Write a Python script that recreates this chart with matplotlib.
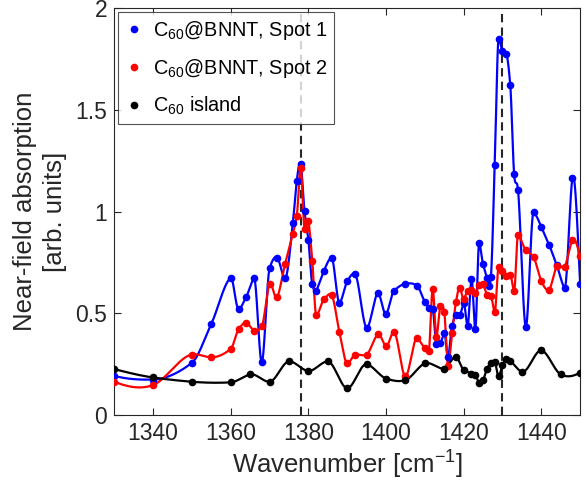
import matplotlib
matplotlib.use("Agg")
import matplotlib.pyplot as plt
from matplotlib.lines import Line2D
import numpy as np

plt.rcParams["font.family"] = ["Liberation Sans", "DejaVu Sans"]
plt.rcParams["mathtext.fontset"] = "custom"
plt.rcParams["mathtext.rm"] = "Liberation Sans"
plt.rcParams["mathtext.it"] = "Liberation Sans"

# spectra
spot1_x = [1330, 1340, 1350, 1355, 1360, 1362, 1364, 1366, 1368, 1370, 1372, 1374, 1376, 1377,
           1378, 1379, 1380, 1381, 1382, 1384, 1386, 1388, 1390, 1392, 1395, 1398, 1400, 1402,
           1405, 1408, 1410, 1411, 1412, 1413, 1414, 1415, 1416, 1417, 1418, 1419, 1420, 1421,
           1422, 1423, 1424, 1425, 1426, 1426.6, 1427, 1428, 1429, 1430, 1431, 1432, 1433, 1434,
           1436, 1438, 1440, 1442, 1444, 1446, 1448, 1450]
spot1_y = [0.193, 0.175, 0.257, 0.449, 0.675, 0.521, 0.582, 0.672, 0.259, 0.721, 0.774, 0.672,
           0.943, 1.149, 1.235, 1.002, 0.861, 0.644, 0.611, 0.710, 0.772, 0.552, 0.657, 0.694,
           0.430, 0.598, 0.497, 0.610, 0.646, 0.636, 0.557, 0.528, 0.521, 0.348, 0.353, 0.402,
           0.287, 0.439, 0.492, 0.492, 0.549, 0.439, 0.669, 0.421, 0.848, 0.741, 0.674, 0.635,
           0.677, 1.230, 1.851, 1.790, 1.774, 1.623, 1.184, 1.107, 0.434, 0.997, 0.926, 0.838,
           0.736, 0.625, 1.164, 0.644]

spot2_x = [1330, 1340, 1350, 1355, 1360, 1362, 1364, 1366, 1368, 1370, 1372, 1374, 1376, 1377,
           1378, 1379, 1380, 1381, 1382, 1384, 1386, 1388, 1390, 1392, 1395, 1398, 1400, 1402,
           1405, 1408, 1410, 1411, 1412, 1413, 1414, 1415, 1416, 1417, 1418, 1419, 1420, 1421,
           1422, 1423, 1424, 1425, 1426, 1427, 1428, 1429, 1430, 1431, 1432, 1433, 1434, 1436,
           1438, 1440, 1442, 1444, 1446, 1448, 1450]
spot2_y = [0.164, 0.148, 0.298, 0.284, 0.325, 0.421, 0.454, 0.415, 0.438, 0.644, 0.580, 0.743,
           0.889, 0.979, 1.215, 0.916, 0.954, 0.759, 0.493, 0.569, 0.590, 0.408, 0.254, 0.297,
           0.298, 0.397, 0.339, 0.410, 0.190, 0.377, 0.328, 0.316, 0.622, 0.385, 0.535, 0.506,
           0.242, 0.402, 0.554, 0.627, 0.571, 0.610, 0.615, 0.600, 0.642, 0.643, 0.590, 0.587,
           0.506, 0.726, 0.709, 0.683, 0.691, 0.611, 0.887, 0.810, 0.777, 0.660, 0.617, 0.733,
           0.730, 0.862, 0.780]

island_x = [1330, 1340, 1350, 1360, 1365, 1370, 1375, 1380, 1385, 1390, 1395, 1400, 1405, 1410,
            1415, 1418, 1420, 1422, 1423, 1424, 1425, 1426, 1427, 1428, 1429, 1430, 1431, 1432,
            1435, 1440, 1445, 1450]
island_y = [0.226, 0.185, 0.164, 0.161, 0.200, 0.164, 0.264, 0.217, 0.264, 0.132, 0.250, 0.180,
            0.172, 0.254, 0.229, 0.286, 0.223, 0.204, 0.195, 0.157, 0.172, 0.228, 0.256, 0.262,
            0.190, 0.245, 0.275, 0.266, 0.213, 0.318, 0.200, 0.209]

peak_lines = [1378, 1430]
series = [
    ("C$_{60}$@BNNT, Spot 1", spot1_x, spot1_y, "#0000ff"),
    ("C$_{60}$@BNNT, Spot 2", spot2_x, spot2_y, "#ff0000"),
    ("C$_{60}$ island", island_x, island_y, "#000000"),
]


def makima(x, y, n=4000):
    # modified Akima interpolation, like MATLAB's interp1(..., 'makima')
    x = np.asarray(x, float)
    y = np.asarray(y, float)
    h = np.diff(x)
    d = np.diff(y) / h
    m = len(x)
    ext = np.empty(m + 3)
    ext[2:m + 1] = d
    ext[1] = 2 * d[0] - d[1]
    ext[0] = 2 * ext[1] - d[0]
    ext[m + 1] = 2 * d[-1] - d[-2]
    ext[m + 2] = 2 * ext[m + 1] - d[-1]
    dm2, dm1, d0, dp1 = ext[0:m], ext[1:m + 1], ext[2:m + 2], ext[3:m + 3]
    w1 = np.abs(dp1 - d0) + np.abs(dp1 + d0) / 2
    w2 = np.abs(dm1 - dm2) + np.abs(dm1 + dm2) / 2
    tot = w1 + w2
    safe = np.where(tot == 0, 1, tot)
    slope = np.where(tot == 0, 0.0, (w1 * dm1 + w2 * d0) / safe)

    xs = np.linspace(x[0], x[-1], n)
    k = np.clip(np.searchsorted(x, xs) - 1, 0, m - 2)
    hk = h[k]
    t = (xs - x[k]) / hk
    h00 = 2 * t ** 3 - 3 * t ** 2 + 1
    h10 = t ** 3 - 2 * t ** 2 + t
    h01 = -2 * t ** 3 + 3 * t ** 2
    h11 = t ** 3 - t ** 2
    ys = h00 * y[k] + h10 * hk * slope[k] + h01 * y[k + 1] + h11 * hk * slope[k + 1]
    return xs, ys


fig = plt.figure(figsize=(5.86, 4.93), dpi=100)
ax = fig.add_axes([0.195, 0.158, 0.795, 0.825])

for xv in peak_lines:
    ax.axvline(xv, color="#262626", linestyle=(0, (4, 2.5)), linewidth=1.5, zorder=1)

handles = []
for label, xs, ys, color in series:
    cx, cy = makima(xs, ys)
    ax.plot(cx, cy, color=color, linewidth=1.6, zorder=2)
    ax.plot(xs, ys, "o", color=color, markersize=4.5, zorder=3)
    handles.append(Line2D([], [], linestyle="none", marker="o", color=color,
                          markersize=4.5, label=label))

ax.set_xlim(1330, 1450)
ax.set_ylim(0, 2)
ax.set_xticks([1340, 1360, 1380, 1400, 1420, 1440])
ax.set_yticks([0, 0.5, 1, 1.5, 2])
ax.set_yticklabels(["0", "0.5", "1", "1.5", "2"])
ax.tick_params(direction="in", top=True, right=True, length=5, width=0.8,
               labelsize=16.5, colors="#262626", pad=5)
for sp in ax.spines.values():
    sp.set_color("#262626")
    sp.set_linewidth(0.8)

ax.set_xlabel("Wavenumber [cm$^{-1}$]", fontsize=18.5, color="#262626", labelpad=3)
ax.set_ylabel("Near-field absorption\n[arb. units]", fontsize=18.5, color="#262626",
              linespacing=1.3, labelpad=6)

leg = ax.legend(handles=handles, loc="upper left", fontsize=14.3, frameon=True,
                fancybox=False, edgecolor="#262626", handlelength=0.9,
                handletextpad=0.5, borderaxespad=0.2, labelspacing=0.75,
                borderpad=0.35)
leg.get_frame().set_linewidth(0.8)

fig.savefig("out.png", dpi=100, facecolor="white")
